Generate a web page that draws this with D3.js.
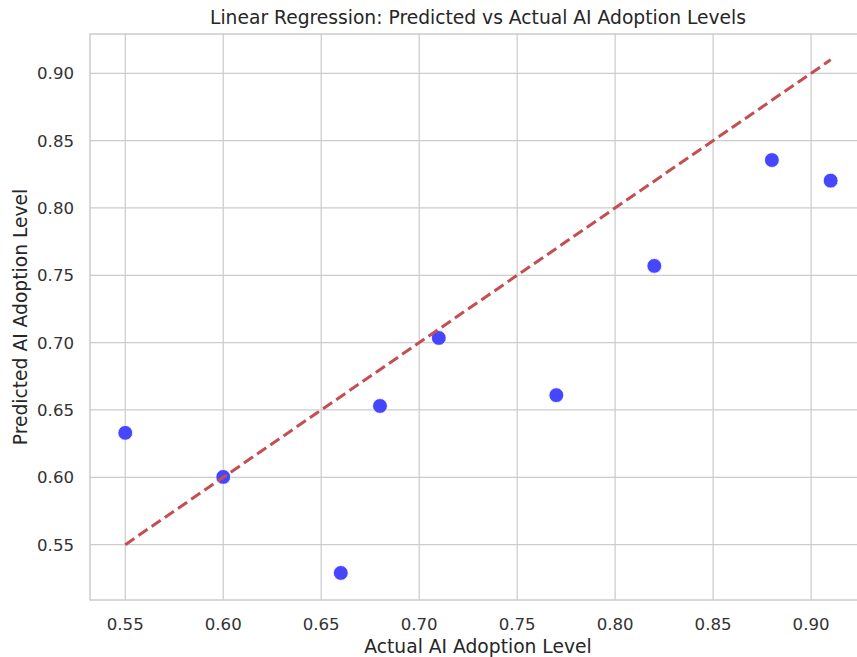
<!DOCTYPE html>
<meta charset="utf-8">
<style>
body { margin: 0; background: #fff; }
text { font-family: "DejaVu Sans", sans-serif; fill: #262626; }
.grid line { stroke: #cccccc; stroke-width: 1.25px; }
</style>
<body>
<script src="https://cdn.jsdelivr.net/npm/d3@7"></script>
<script>
// actual vs predicted values
var actual = [0.55, 0.60, 0.66, 0.68, 0.71, 0.77, 0.82, 0.88, 0.91];
var predicted = [0.633, 0.6003, 0.529, 0.653, 0.7035, 0.661, 0.757, 0.8356, 0.8203];
var xTicks = [0.55, 0.60, 0.65, 0.70, 0.75, 0.80, 0.85, 0.90];
var yTicks = [0.55, 0.60, 0.65, 0.70, 0.75, 0.80, 0.85, 0.90];
var lineEnds = [0.55, 0.91];

var width = 857, height = 657;
var plotLeft = 90, plotTop = 34, plotBottom = 600;

var svg = d3.select("body").append("svg")
    .attr("width", width)
    .attr("height", height);

var x = d3.scaleLinear().domain([0.532, 0.928]).range([plotLeft, plotLeft + (0.928 - 0.532) / 0.05 * 97.97]);
var y = d3.scaleLinear().domain([0.5089, 0.9292]).range([plotBottom, plotTop]);
var plotRight = x(0.928);

// grid
var grid = svg.append("g").attr("class", "grid");
grid.selectAll(".vx").data(xTicks).enter().append("line")
    .attr("x1", function(d) { return x(d); }).attr("x2", function(d) { return x(d); })
    .attr("y1", plotTop).attr("y2", plotBottom);
grid.selectAll(".hy").data(yTicks).enter().append("line")
    .attr("y1", function(d) { return y(d); }).attr("y2", function(d) { return y(d); })
    .attr("x1", plotLeft).attr("x2", plotRight);

// spines
svg.append("rect")
    .attr("x", plotLeft).attr("y", plotTop)
    .attr("width", plotRight - plotLeft).attr("height", plotBottom - plotTop)
    .attr("fill", "none").attr("stroke", "#cccccc").attr("stroke-width", 1.5);

// tick labels
svg.selectAll(".xt").data(xTicks).enter().append("text")
    .attr("x", function(d) { return x(d); })
    .attr("y", 630)
    .attr("text-anchor", "middle")
    .style("font-size", "16.6px")
    .style("fill", "#333")
    .text(function(d) { return d.toFixed(2); });
svg.selectAll(".yt").data(yTicks).enter().append("text")
    .attr("x", 74)
    .attr("y", function(d) { return y(d) + 6; })
    .attr("text-anchor", "end")
    .style("font-size", "16.6px")
    .style("fill", "#333")
    .text(function(d) { return d.toFixed(2); });

// points
svg.selectAll("circle").data(actual).enter().append("circle")
    .attr("cx", function(d) { return x(d); })
    .attr("cy", function(d, i) { return y(predicted[i]); })
    .attr("r", 7.4)
    .attr("fill", "rgb(70,70,255)")
    .attr("stroke", "#fff")
    .attr("stroke-width", 0.8);

// identity line
svg.append("line")
    .attr("x1", x(lineEnds[0])).attr("y1", y(lineEnds[0]))
    .attr("x2", x(lineEnds[1])).attr("y2", y(lineEnds[1]))
    .attr("stroke", "#c44e52")
    .attr("stroke-width", 3)
    .attr("stroke-dasharray", "11,5");

// title and labels
svg.append("text")
    .attr("x", 478)
    .attr("y", 24)
    .attr("text-anchor", "middle")
    .style("font-size", "18.7px")
    .text("Linear Regression: Predicted vs Actual AI Adoption Levels");
svg.append("text")
    .attr("x", 478)
    .attr("y", 653)
    .attr("text-anchor", "middle")
    .style("font-size", "18.7px")
    .text("Actual AI Adoption Level");
svg.append("text")
    .attr("transform", "translate(27," + ((plotTop + plotBottom) / 2) + ") rotate(-90)")
    .attr("text-anchor", "middle")
    .style("font-size", "18.7px")
    .text("Predicted AI Adoption Level");
</script>
